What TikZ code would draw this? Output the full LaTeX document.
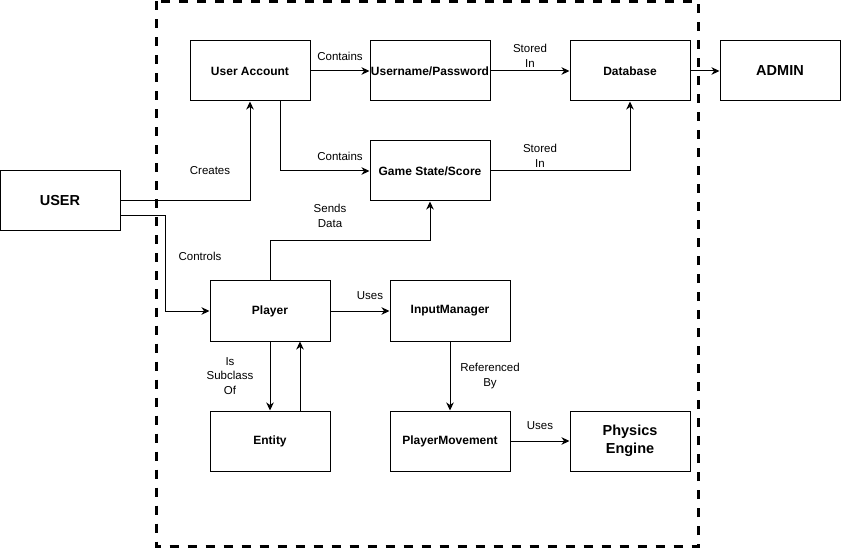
\documentclass[tikz,border=0pt]{standalone}
\usepackage{fontspec}
\setmainfont{Liberation Sans}
\usetikzlibrary{arrows.meta}
\begin{document}
\begin{tikzpicture}[x=1pt,y=-1pt,
  box/.style={draw, line width=1pt, fill=white, minimum width=120pt, minimum height=60pt, inner sep=0pt, font=\fontsize{12}{14}\selectfont\bfseries, align=center},
  bigbox/.style={box, font=\fontsize{14.5}{18}\selectfont\bfseries},
  arr/.style={draw, line width=1pt, -{Stealth[length=8pt,width=7.5pt,inset=2.5pt]}},
  lbl/.style={font=\fontsize{11.5}{14.5}\selectfont, align=center, inner sep=0pt}]
\useasboundingbox (0,0) rectangle (841,548);
\draw[line width=3pt, dash pattern=on 9pt off 9pt] (156.5,1.5) rectangle (698,546.5);

\node[box] (ua) at (250,71) {User Account};
\node[box] (up) at (430,71) {Username/Password};
\node[box] (db) at (630,71) {Database};
\node[bigbox] (ad) at (780,71) {ADMIN};
\node[box] (gs) at (430,171) {Game State/Score};
\node[bigbox] (us) at (60,201) {USER};
\node[box] (pl) at (270,311) {Player};
\node[box] (im) at (450,311) {InputManager};
\node[box] (en) at (270,441) {Entity};
\node[box] (pm) at (450,441) {PlayerMovement};
\node[bigbox] (pe) at (630,441) {Physics\\Engine};

\draw[arr] (ua.east) -- (up.west);
\draw[arr] (up.east) -- (db.west);
\draw[arr] (db.east) -- (ad.west);
\draw[arr] ([xshift=30pt]ua.south) |- (gs.west);
\draw[arr] (gs.east) -| (db.south);
\draw[arr] (us.east) -| (ua.south);
\draw[arr] ([yshift=-15pt]us.east) -- ++(45pt,0pt) |- (pl.west);
\draw[arr] (pl.north) -- ++(0pt,40pt) -| (gs.south);
\draw[arr] (pl.east) -- (im.west);
\draw[arr] (pl.south) -- (en.north);
\draw[arr] ([xshift=30pt]en.north) -- ([xshift=30pt]pl.south);
\draw[arr] (im.south) -- (pm.north);
\draw[arr] (pm.east) -- (pe.west);

\node[lbl] (l1) at (340,56) {Contains};
\node[lbl] (l2) at (530,56) {Stored\\In};
\node[lbl] (l3) at (340,156) {Contains};
\node[lbl] (l4) at (540,156) {Stored\\In};
\node[lbl] (l5) at (210,171) {Creates};
\node[lbl] (l6) at (330,216) {Sends\\Data};
\node[lbl] (l7) at (200,256) {Controls};
\node[lbl] (l8) at (370,296) {Uses};
\node[lbl] (l9) at (230,376) {Is\\Subclass\\Of};
\node[lbl] (l10) at (490,376) {Referenced\\By};
\node[lbl] (l11) at (540,426) {Uses};
\end{tikzpicture}
\end{document}
